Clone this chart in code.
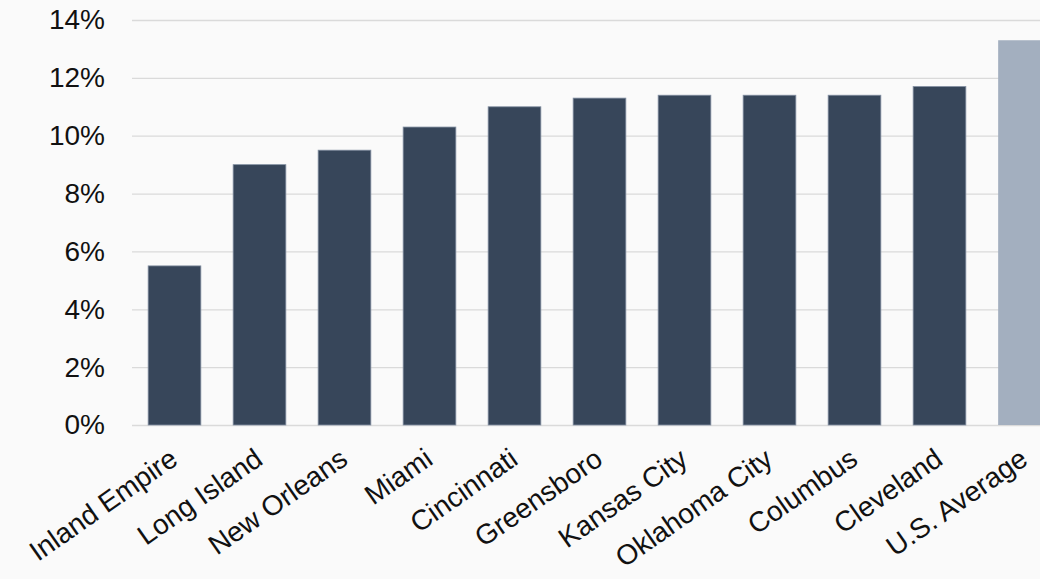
<!DOCTYPE html>
<html>
<head>
<meta charset="utf-8">
<script src="https://cdn.jsdelivr.net/npm/d3@7"></script>
<style>
  html, body { margin: 0; padding: 0; background: #fafafa; overflow: hidden; }
  text { font-family: 'Liberation Sans', Arial, sans-serif; fill: #111; }
</style>
</head>
<body>
<div id="chart"></div>
<script>
var cities = ['Inland Empire', 'Long Island', 'New Orleans', 'Miami', 'Cincinnati', 'Greensboro',
  'Kansas City', 'Oklahoma City', 'Columbus', 'Cleveland', 'U.S. Average']
var values = [5.5, 9.0, 9.5, 10.3, 11.0, 11.3, 11.4, 11.4, 11.4, 11.7, 13.3]
var yTicks = [0, 2, 4, 6, 8, 10, 12, 14]

var width = 1040
var height = 579
var margin = { top: 20, left: 132, bottom: 154 }

var svg = d3
  .select('#chart')
  .append('svg')
  .attr('width', width)
  .attr('height', height)
  .style('display', 'block')

var yScale = d3
  .scaleLinear()
  .domain([0, 14])
  .range([height - margin.bottom, margin.top])

// the last bar runs off the right edge in the original
var xScale = d3
  .scaleBand()
  .domain(cities)
  .range([margin.left, margin.left + 85 * cities.length])
  .paddingInner(0.38)
  .paddingOuter(0.19)

// gridlines + y labels
var yAxis = d3
  .axisLeft(yScale)
  .tickValues(yTicks)
  .tickSize(-(width - margin.left))
  .tickPadding(27)
  .tickFormat(d => d + '%')

svg
  .append('g')
  .attr('transform', 'translate(' + margin.left + ',0)')
  .call(yAxis)
  .call(g => g.select('.domain').remove())
  .call(g => g.selectAll('.tick line').attr('stroke', '#dadada').attr('stroke-width', 1.3))
  .call(g => g.selectAll('.tick text')
    .attr('font-size', 28)
    .attr('fill', '#111')
    .attr('font-family', "'Liberation Sans', Arial, sans-serif"))

svg
  .selectAll('.bar')
  .data(cities)
  .enter()
  .append('rect')
  .attr('class', 'bar')
  .attr('x', d => xScale(d))
  .attr('width', xScale.bandwidth())
  .attr('y', (d, i) => yScale(values[i]))
  .attr('height', (d, i) => yScale(0) - yScale(values[i]))
  .attr('fill', d => d === 'U.S. Average' ? '#a3afbf' : '#37465a')
  .attr('stroke', d => d === 'U.S. Average' ? 'none' : '#8390a2')
  .attr('stroke-width', 0.8)

// rotated category labels
svg
  .selectAll('.cat')
  .data(cities)
  .enter()
  .append('text')
  .attr('class', 'cat')
  .attr('text-anchor', 'end')
  .attr('font-size', 28)
  .attr('transform', d => 'translate(' + (xScale(d) + xScale.bandwidth() / 2 + 5) + ',' + (yScale(0) + 38) + ') rotate(-35)')
  .text(d => d)
</script>
</body>
</html>
